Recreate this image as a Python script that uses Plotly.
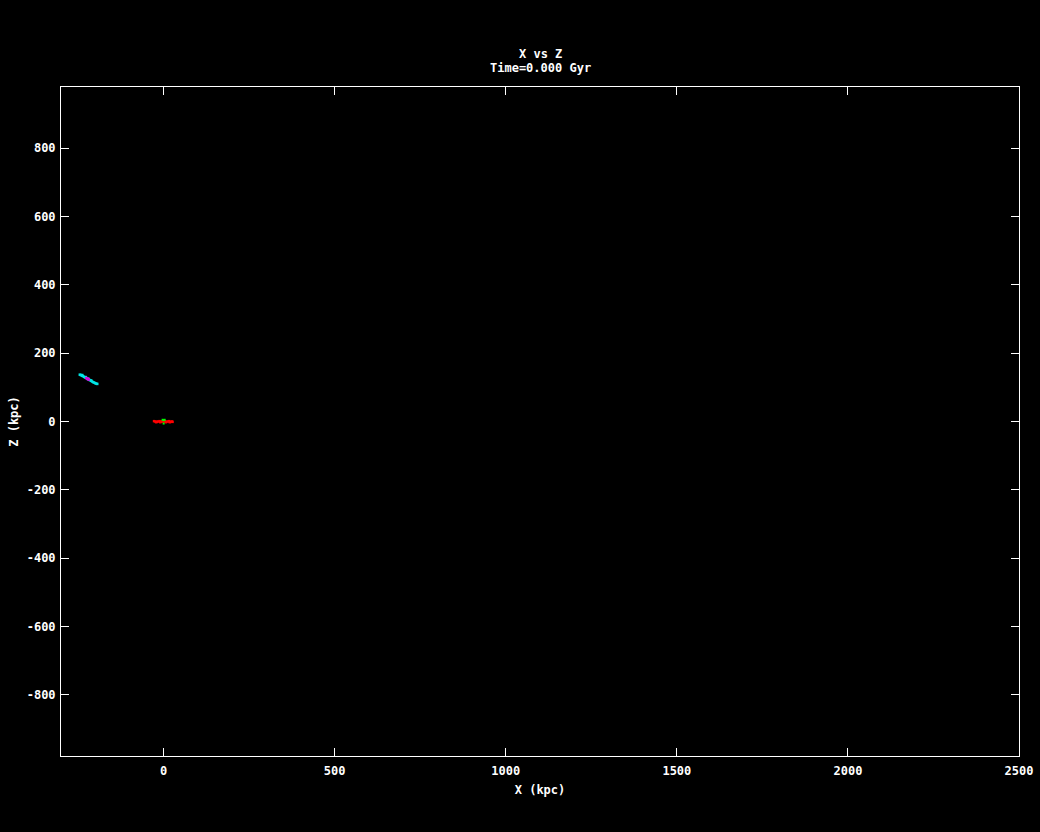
import plotly.graph_objects as go

# Satellite (cyan) particles, estimated positions (kpc)
cyan_x = [-245, -242, -239, -236, -233, -230, -227, -224, -221, -218, -215, -212, -209, -206, -203, -200, -197, -194, -238, -228, -220, -212]
cyan_z = [137, 136, 134, 133, 131, 129, 128, 126, 124, 122, 121, 119, 117, 115, 114, 112, 111, 110, 136, 130, 125, 120]
# Satellite core (magenta)
mag_x = [-226, -223, -221, -219]
mag_z = [127, 126, 124, 123]
# Host disk (red)
red_x = [-28, -24, -20, -16, -12, -8, -4, 0, 4, 8, 12, 16, 20, 24, 26, -22, -10, 6, 18]
red_z = [1, 0, -1, 0, 1, -1, 0, 0, 1, -1, 0, 1, -1, 0, -1, -2, -2, -2, -2]
# Host bulge (green)
green_x = [-3, 0, 3, 0]
green_z = [5, 4, 5, -6]

title_line1 = "X vs Z"
title_line2 = "Time=0.000 Gyr"
x_label = "X (kpc)"
z_label = "Z (kpc)"
x_ticks = [0, 500, 1000, 1500, 2000, 2500]
z_ticks = [-800, -600, -400, -200, 0, 200, 400, 600, 800]
x_range = [-300, 2500]
z_range = [-979, 979]

FONT = "DejaVu Sans Mono"
tfont = dict(family=FONT, size=12, color="white", weight="bold")

fig = go.Figure()
for xs, zs, col, sz in [(cyan_x, cyan_z, "#00e5e5", 2.5), (mag_x, mag_z, "#e000e0", 2.5),
                        (red_x, red_z, "#ff0000", 2.5), (green_x, green_z, "#00ff00", 2)]:
    fig.add_trace(go.Scatter(x=xs, y=zs, mode="markers",
                             marker=dict(color=col, size=sz, symbol="square", line=dict(width=0)),
                             showlegend=False, hoverinfo="skip"))

axis_common = dict(
    showgrid=False, zeroline=False, showline=True, linecolor="white", linewidth=1,
    mirror="ticks", ticks="inside", ticklen=8, tickwidth=1, tickcolor="white",
    tickfont=tfont,
)

ph = 832 - 87 - 76
fig.update_layout(
    width=1040, height=832,
    paper_bgcolor="black", plot_bgcolor="black",
    margin=dict(l=61, r=21, t=87, b=76, autoexpand=False),
    xaxis=dict(range=x_range, tickvals=x_ticks, ticktext=[str(v) for v in x_ticks],
               ticklabelstandoff=4,
               title=dict(text=x_label, font=tfont, standoff=8),
               **axis_common),
    yaxis=dict(range=z_range, tickvals=z_ticks, ticktext=[str(v) for v in z_ticks],
               ticklabelstandoff=2,
               title=dict(text=z_label, font=tfont, standoff=5),
               **axis_common),
    annotations=[
        dict(text=title_line1, x=0.5, xref="paper", y=1 + (87 - 54) / ph, yref="paper",
             yanchor="middle", showarrow=False, font=tfont),
        dict(text=title_line2, x=0.5, xref="paper", y=1 + (87 - 68) / ph, yref="paper",
             yanchor="middle", showarrow=False, font=tfont),
    ],
)

fig.write_html("out.html", config={"displayModeBar": False},
               post_script="document.body.style.margin='0';document.body.style.background='black';")
